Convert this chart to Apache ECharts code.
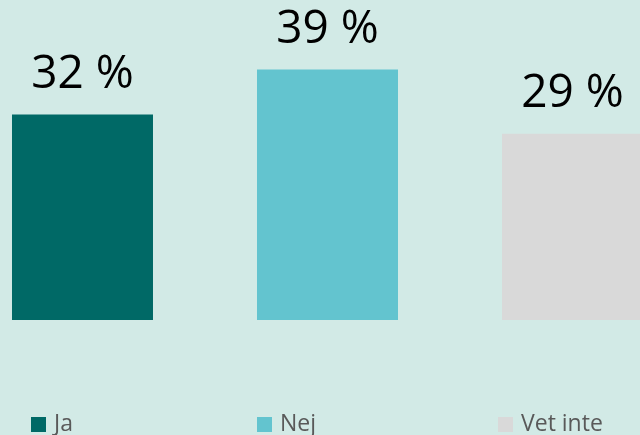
<!DOCTYPE html>
<html>
  <head>
    <title></title>
    <meta charset="UTF-8" />
    <script src="https://cdn.jsdelivr.net/npm/echarts@6/dist/echarts.min.js"></script>
    <style>
      html, body { margin: 0; padding: 0; background: #d2eae6; }
    </style>
  </head>
  <body>
    <div id="main"></div>
    <script>
      const width = 640;
      const height = 435;
      const main = document.getElementById('main');
      main.style.width = `${width}px`;
      main.style.height = `${height}px`;

      const categories = ['Ja', 'Nej', 'Vet inte'];
      const values = [32, 39, 29];
      const colors = ['#006966', '#63c4cf', '#d9d9d9'];
      const legendLeft = [31, 257, 498];

      // one series per answer so each gets its own legend entry;
      // x is the category index on a value axis (the chart is cropped at both sides)
      const series = categories.map((name, i) => ({
        name,
        type: 'bar',
        barWidth: 141,
        barGap: '-100%',
        itemStyle: { color: colors[i] },
        label: {
          show: true,
          position: 'top',
          distance: 17,
          formatter: (p) => p.value[1] + ' %',
          fontFamily: 'Open Sans',
          fontSize: 46,
          color: '#000',
        },
        data: [[i, values[i]]],
      }));

      const myChart = echarts.init(main);
      const option = {
        backgroundColor: '#d2eae6',
        animation: false,
        grid: { left: 0, right: 0, top: 63, bottom: 115 },
        legend: categories.map((name, i) => ({
          data: [name],
          left: legendLeft[i],
          top: 413,
          padding: 0,
          itemWidth: 15,
          itemHeight: 15,
          itemGap: 0,
          icon: 'rect',
          textStyle: {
            fontFamily: 'Open Sans',
            fontSize: 23,
            color: '#595959',
            padding: [0, 0, 0, 3],
          },
        })),
        xAxis: {
          type: 'value',
          min: -0.3367,
          max: 2.2755,
          show: false,
          splitLine: { show: false },
        },
        yAxis: {
          type: 'value',
          min: 0,
          max: 40,
          show: false,
          splitLine: { show: false },
        },
        series,
      };
      myChart.setOption(option);
    </script>
  </body>
</html>
